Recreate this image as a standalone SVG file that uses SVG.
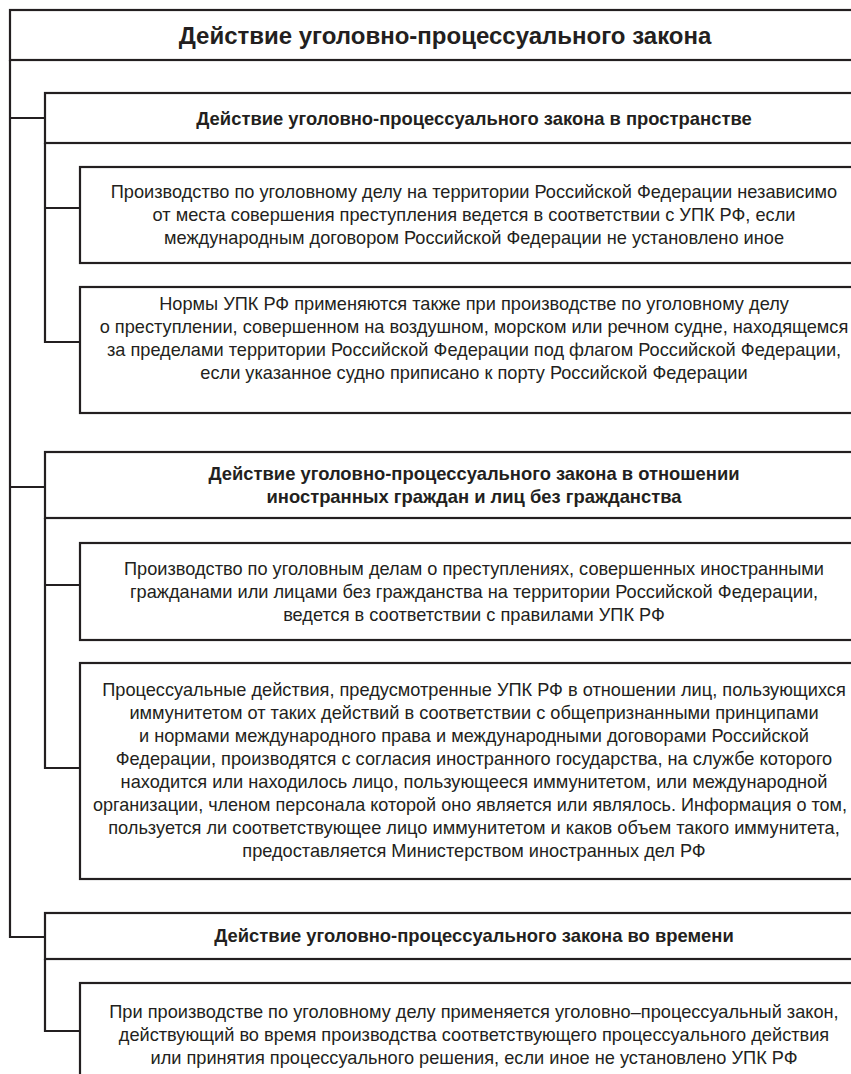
<svg xmlns="http://www.w3.org/2000/svg" width="851" height="1074" viewBox="0 0 851 1074">
<style>
.box{fill:#fff;stroke:#231f20;stroke-width:2.2}
.con{fill:none;stroke:#231f20;stroke-width:2.2}
.t0{font-family:"Liberation Sans",Arial,sans-serif;font-weight:bold;font-size:24px;fill:#231f20;text-anchor:middle}
.t1{font-family:"Liberation Sans",Arial,sans-serif;font-weight:bold;font-size:18.4px;fill:#231f20;text-anchor:middle}
.t2{font-family:"Liberation Sans",Arial,sans-serif;font-size:18.2px;fill:#231f20;text-anchor:middle}
</style>
<rect width="851" height="1074" fill="#fff"/>
<g id="connectors">
<path class="con" d="M10 60V937H45M10 118H45M10 487H45"/>
<path class="con" d="M45 143V342H80M45 208H80"/>
<path class="con" d="M45 518V768H80M45 585H80"/>
<path class="con" d="M45 959V1031H80"/>
</g>
<g id="root">
<rect class="box" x="10" y="10" width="900" height="50"/>
<text class="t0" x="445" y="44">Действие уголовно-процессуального закона</text>
</g>
<g id="space">
<rect class="box" x="45" y="93" width="900" height="50"/>
<text class="t1" x="474" y="125">Действие уголовно-процессуального закона в пространстве</text>
</g>
<g id="space1">
<rect class="box" x="80" y="167" width="900" height="96"/>
<text class="t2"><tspan x="474" y="198">Производство по уголовному делу на территории Российской Федерации независимо</tspan><tspan x="474" y="221">от места совершения преступления ведется в соответствии с УПК РФ, если</tspan><tspan x="474" y="244">международным договором Российской Федерации не установлено иное</tspan></text>
</g>
<g id="space2">
<rect class="box" x="80" y="287" width="900" height="126"/>
<text class="t2"><tspan x="474" y="310">Нормы УПК РФ применяются также при производстве по уголовному делу</tspan><tspan x="474" y="333">о преступлении, совершенном на воздушном, морском или речном судне, находящемся</tspan><tspan x="474" y="356">за пределами территории Российской Федерации под флагом Российской Федерации,</tspan><tspan x="474" y="379">если указанное судно приписано к порту Российской Федерации</tspan></text>
</g>
<g id="foreign">
<rect class="box" x="45" y="452" width="900" height="66"/>
<text class="t1"><tspan x="474" y="480">Действие уголовно-процессуального закона в отношении</tspan><tspan x="474" y="503">иностранных граждан и лиц без гражданства</tspan></text>
</g>
<g id="foreign1">
<rect class="box" x="80" y="543" width="900" height="97"/>
<text class="t2"><tspan x="474" y="575">Производство по уголовным делам о преступлениях, совершенных иностранными</tspan><tspan x="474" y="598">гражданами или лицами без гражданства на территории Российской Федерации,</tspan><tspan x="474" y="621">ведется в соответствии с правилами УПК РФ</tspan></text>
</g>
<g id="foreign2">
<rect class="box" x="80" y="663" width="900" height="216"/>
<text class="t2"><tspan x="474" y="696">Процессуальные действия, предусмотренные УПК РФ в отношении лиц, пользующихся</tspan><tspan x="474" y="719">иммунитетом от таких действий в соответствии с общепризнанными принципами</tspan><tspan x="474" y="742">и нормами международного права и международными договорами Российской</tspan><tspan x="474" y="765">Федерации, производятся с согласия иностранного государства, на службе которого</tspan><tspan x="474" y="788">находится или находилось лицо, пользующееся иммунитетом, или международной</tspan></text>
<text class="t2" x="470" y="811" textLength="754" lengthAdjust="spacingAndGlyphs">организации, членом персонала которой оно является или являлось. Информация о том,</text>
<text class="t2"><tspan x="474" y="834">пользуется ли соответствующее лицо иммунитетом и каков объем такого иммунитета,</tspan><tspan x="474" y="857">предоставляется Министерством иностранных дел РФ</tspan></text>
</g>
<g id="time">
<rect class="box" x="45" y="913" width="900" height="46"/>
<text class="t1" x="474" y="942">Действие уголовно-процессуального закона во времени</text>
</g>
<g id="time1">
<rect class="box" x="80" y="983" width="900" height="200"/>
<text class="t2"><tspan x="474" y="1018">При производстве по уголовному делу применяется уголовно–процессуальный закон,</tspan><tspan x="474" y="1041">действующий во время производства соответствующего процессуального действия</tspan><tspan x="474" y="1064">или принятия процессуального решения, если иное не установлено УПК РФ</tspan></text>
</g>
</svg>
